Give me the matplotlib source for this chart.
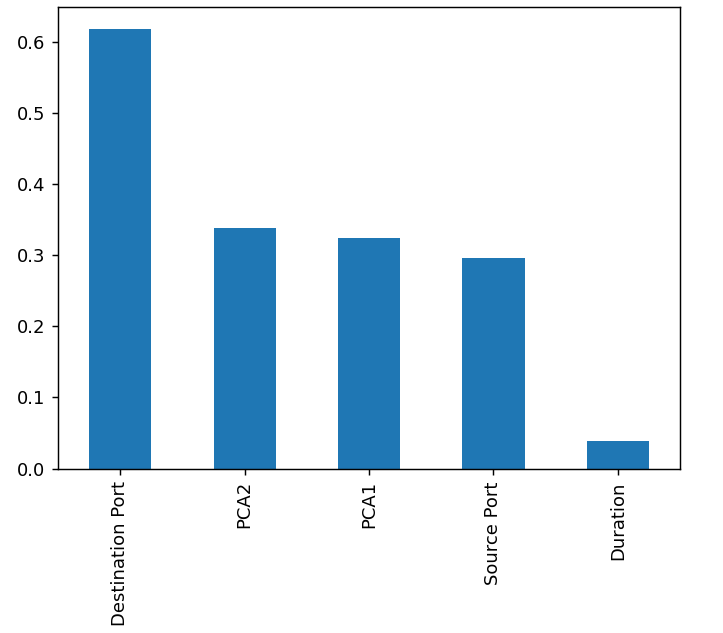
import pandas as pd
import matplotlib
matplotlib.use("Agg")
import matplotlib.pyplot as plt

features = ["Destination Port", "PCA2", "PCA1", "Source Port", "Duration"]
importance = [0.618, 0.338, 0.324, 0.296, 0.038]

series = pd.Series(importance, index=features)

dpi = 130
fig = plt.figure(figsize=(723 / dpi, 633 / dpi), dpi=dpi)
ax = fig.add_axes([58 / 723, 1 - 468.5 / 633, 622 / 723, 461.5 / 633])
series.plot(kind="bar", ax=ax, color="#1f77b4")
plt.savefig("out.png", dpi=dpi)
plt.close()
